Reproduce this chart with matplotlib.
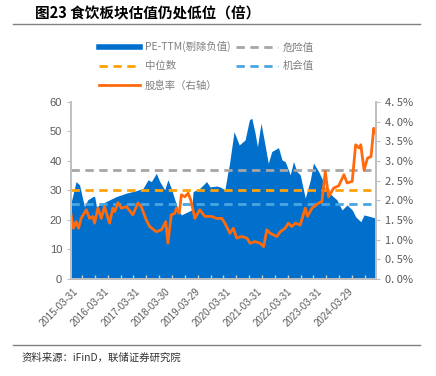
import numpy as np
import pandas as pd
import matplotlib
matplotlib.use("Agg")
import matplotlib.pyplot as plt
import matplotlib.dates as mdates
from matplotlib.lines import Line2D

plt.rcParams['font.family'] = ['Liberation Sans', 'Noto Sans CJK SC', 'DejaVu Sans']

# PE-TTM (excluding negatives), left axis
pe_dates = ["2015-03-03", "2015-05-02", "2015-06-12", "2015-08-10", "2015-09-18", "2015-11-18",
            "2015-12-10", "2016-01-01", "2016-03-18", "2016-06-06", "2016-08-25", "2016-10-25",
            "2016-12-25", "2017-04-20", "2017-07-12", "2017-09-10", "2017-10-20", "2017-12-18",
            "2018-01-28", "2018-03-28", "2018-05-06", "2018-06-15", "2018-07-28", "2018-09-06",
            "2018-10-15", "2018-11-25", "2019-02-15", "2019-03-03", "2019-05-22", "2019-08-12",
            "2019-09-22", "2019-12-10", "2020-01-18", "2020-03-18", "2020-04-28", "2020-05-10",
            "2020-07-06", "2020-09-06", "2020-11-15", "2021-01-06", "2021-02-03", "2021-03-15",
            "2021-04-12", "2021-05-25", "2021-07-01", "2021-08-20", "2021-10-01", "2021-12-20",
            "2022-02-01", "2022-03-10", "2022-05-10", "2022-06-18", "2022-07-28", "2022-09-06",
            "2022-11-06", "2023-01-06", "2023-02-12", "2023-04-15", "2023-05-25", "2023-07-03",
            "2023-09-03", "2023-11-20", "2024-01-20", "2024-03-21", "2024-05-21", "2024-07-01",
            "2024-08-10", "2024-09-01", "2024-10-10", "2025-01-01", "2025-02-28"]
pe_values = [25.8, 33.0, 31.9, 24.5, 26.8, 27.9,
             28.0, 24.5, 25.7, 26.8, 27.9, 28.5,
             29.1, 29.9, 30.7, 33.6, 33.0, 35.8,
             33.0, 30.2, 33.6, 30.7, 26.8, 23.4,
             21.7, 22.3, 23.4, 29.6, 30.7, 33.0,
             31.2, 31.5, 31.2, 30.2, 37.0, 38.6,
             49.9, 45.4, 47.1, 53.9, 54.5, 49.4,
             44.8, 52.8, 47.1, 39.2, 43.2, 44.5,
             40.3, 39.8, 35.3, 39.8, 36.4, 35.3,
             27.4, 33.6, 39.3, 36.4, 34.0, 30.7,
             28.8, 26.8, 23.4, 25.1, 23.4, 21.1,
             20.0, 19.4, 21.7, 21.1, 20.6]

# dividend yield, right axis
dy_dates = ["2015-03-03", "2015-04-01", "2015-05-02", "2015-06-01", "2015-07-01", "2015-09-01",
            "2015-10-10", "2015-11-18", "2015-12-10", "2016-01-18", "2016-02-28", "2016-04-06",
            "2016-06-06", "2016-07-15", "2016-08-06", "2016-09-15", "2016-10-25", "2016-12-25",
            "2017-03-12", "2017-05-12", "2017-06-20", "2017-08-20", "2017-10-01", "2017-12-18",
            "2018-02-18", "2018-04-10", "2018-05-06", "2018-06-15", "2018-07-28", "2018-08-15",
            "2018-09-18", "2018-10-15", "2018-11-25", "2019-01-03", "2019-02-03", "2019-03-25",
            "2019-05-22", "2019-07-22", "2019-10-12", "2019-12-10", "2020-02-10", "2020-03-18",
            "2020-05-18", "2020-06-28", "2020-08-06", "2020-10-06", "2020-12-06", "2021-01-15",
            "2021-03-15", "2021-05-15", "2021-06-25", "2021-08-03", "2021-09-12", "2021-12-01",
            "2022-01-10", "2022-03-10", "2022-04-18", "2022-05-28", "2022-07-10", "2022-09-06",
            "2022-11-06", "2022-12-03", "2023-01-25", "2023-04-15", "2023-05-25", "2023-07-03",
            "2023-08-12", "2023-10-12", "2023-12-12", "2024-02-12", "2024-03-21", "2024-05-21",
            "2024-07-01", "2024-08-10", "2024-09-01", "2024-10-10", "2024-11-20", "2025-01-01",
            "2025-02-03", "2025-02-28"]
dy_values = [1.63, 1.29, 1.46, 1.29, 1.54, 1.76,
             1.54, 1.59, 1.42, 1.80, 1.54, 1.84,
             1.42, 1.80, 1.71, 1.94, 1.80, 1.84,
             1.63, 1.93, 1.84, 1.50, 1.33, 1.20,
             1.25, 1.46, 0.91, 1.63, 1.67, 1.80,
             1.67, 2.14, 2.09, 2.18, 2.01, 1.54,
             1.76, 1.59, 1.59, 1.54, 1.54, 1.42,
             1.16, 1.29, 1.04, 1.08, 1.04, 0.91,
             0.95, 0.91, 0.82, 1.25, 1.16, 1.08,
             1.20, 1.29, 1.42, 1.33, 1.42, 1.37,
             1.80, 1.59, 1.80, 1.93, 1.97, 2.73,
             2.09, 2.31, 2.37, 2.65, 2.44, 2.48,
             3.41, 3.33, 3.41, 2.77, 3.07, 3.11,
             3.83, 3.71]

danger = 36.9
median = 30.3
chance = 25.5

x_labels = ["2015-03-31", "2016-03-31", "2017-03-31", "2018-03-30", "2019-03-29",
            "2020-03-31", "2021-03-31", "2022-03-31", "2023-03-31", "2024-03-29"]
left_ticks = [0, 10, 20, 30, 40, 50, 60]
right_ticks = [0.0, 0.5, 1.0, 1.5, 2.0, 2.5, 3.0, 3.5, 4.0, 4.5]

c_blue = '#0070cc'
c_orange = '#ff6a0d'
c_gray = '#a6a6a6'
c_med = '#ffa20a'
c_chance = '#4aa6e2'
c_text = '#595959'
cjk = ['Noto Sans CJK SC', 'DejaVu Sans']
dash = (0, (3, 2))

pe_x = pd.to_datetime(pe_dates)
dy_x = pd.to_datetime(dy_dates)

fig = plt.figure(figsize=(4.36, 3.76), dpi=100)
ax = fig.add_axes([0.163, 0.258, 0.699, 0.471])

ax.fill_between(pe_x, pe_values, 0, color=c_blue, lw=0)
ax.axhline(danger, color=c_gray, lw=2, ls=dash)
ax.axhline(median, color=c_med, lw=2, ls=dash)
ax.axhline(chance, color=c_chance, lw=2, ls=dash)
ax.set_ylim(0, 60)
ax.set_yticks(left_ticks)
ax.set_xlim(pe_x[0], pe_x[-1])

ax2 = ax.twinx()
ax2.plot(dy_x, dy_values, color=c_orange, lw=2)
ax2.set_ylim(0, 4.5)
ax2.set_yticks(right_ticks)
ax2.set_yticklabels([f"{v:.1f}".replace('.', '. ') + '%' for v in right_ticks],
                    family=cjk)

# x ticks: labels at report dates, small inner marks on a regular grid
ax.set_xticks(pd.to_datetime(x_labels))
ax.set_xticklabels(x_labels, rotation=45, ha='right', rotation_mode='anchor')
ax.tick_params(axis='x', which='major', length=0, pad=5, labelsize=7, labelcolor=c_text)
minor = mdates.date2num(pd.Timestamp('2015-07-12')) + 154 * np.arange(23)
ax.set_xticks(minor, minor=True)
ax.tick_params(axis='x', which='minor', direction='in', length=3, color='#d0d0d0', width=1)
ax.tick_params(axis='y', length=3, color='#bfbfbf', labelsize=8, labelcolor=c_text)
ax2.tick_params(axis='y', length=3, color='#bfbfbf', labelsize=8, labelcolor=c_text)

for a in (ax, ax2):
    a.spines['top'].set_visible(False)
    for s in ('left', 'right', 'bottom'):
        a.spines[s].set_color('#bfbfbf')
        a.spines[s].set_linewidth(1.2)

handles = [Line2D([], [], color=c_blue, lw=4),
           Line2D([], [], color=c_med, lw=2, ls=dash),
           Line2D([], [], color=c_orange, lw=2),
           Line2D([], [], color=c_gray, lw=2, ls=dash),
           Line2D([], [], color=c_chance, lw=2, ls=dash)]
labels = ['PE-TTM(剔除负值)', '中位数', '股息率（右轴）', '危险值', '机会值']
fig.legend(handles, labels, ncol=2, loc='upper left', bbox_to_anchor=(0.205, 0.915),
           frameon=False, handlelength=4, columnspacing=0.6, labelspacing=0.85,
           handletextpad=0.4, prop={'family': cjk, 'size': 7.5}, labelcolor='#7f7f7f')

fig.text(0.08, 0.965, '图23 食饮板块估值仍处低位（倍）', fontsize=10.5, fontweight='bold',
         va='center', family=cjk)
fig.add_artist(Line2D([0.03, 0.963], [0.936, 0.936], color='#808080', lw=1))
fig.add_artist(Line2D([0.03, 0.963], [0.082, 0.082], color='#808080', lw=1))
fig.text(0.05, 0.048, '资料来源：iFinD，联储证券研究院', fontsize=7.5, va='center',
         family=cjk, color='#333333')

fig.savefig('out.png', dpi=100)
